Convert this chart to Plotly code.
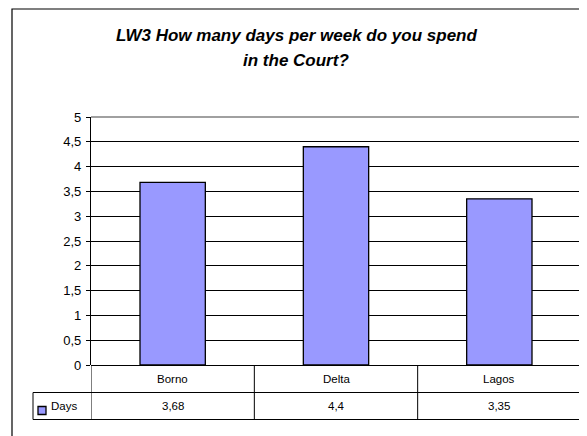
import plotly.graph_objects as go

categories = ["Borno", "Delta", "Lagos"]
values = [3.68, 4.4, 3.35]
series_name = "Days"
tick_vals = [0, 0.5, 1, 1.5, 2, 2.5, 3, 3.5, 4, 4.5, 5]
tick_text = ["0", "0,5", "1", "1,5", "2", "2,5", "3", "3,5", "4", "4,5", "5"]

# the page has an 8px body margin; work in page pixels and compensate
OFF = 8
PAGE_W, PAGE_H = 587, 436
PL, PR_EDGE, PT, PB_EDGE = 91, 581, 117, 365   # plot area in page pixels
W, H = PAGE_W - OFF, PAGE_H - OFF
L = PL - OFF
T = PT - OFF
R = W - (PR_EDGE - OFF)
B = H - (PB_EDGE - OFF)
pw = PR_EDGE - PL
ph = PB_EDGE - PT

def px_x(p):
    return (p - PL) / pw

def px_y(p):
    return (PB_EDGE - p) / ph

FONT = "Liberation Sans, Arial"

fig = go.Figure()
fig.add_trace(go.Bar(
    x=categories, y=values, name=series_name, width=0.4,
    marker=dict(color="#9999FF", line=dict(color="black", width=1.3)),
    showlegend=False,
))

shapes = []
# outer chart border
shapes.append(dict(type="rect", xref="paper", yref="paper",
                   x0=px_x(12), x1=px_x(PAGE_W + 20), y0=px_y(PAGE_H + 20), y1=px_y(9),
                   line=dict(color="black", width=1.2), fillcolor="rgba(0,0,0,0)", layer="below"))
# plot area top/right border (gray)
shapes.append(dict(type="line", xref="paper", yref="paper", x0=0, x1=1, y0=1, y1=1,
                   line=dict(color="#808080", width=1.5)))
shapes.append(dict(type="line", xref="paper", yref="paper", x0=1, x1=1, y0=0, y1=1,
                   line=dict(color="#808080", width=1.5)))
# data table
row1 = px_y(392.5)
row2 = px_y(419.5)
shapes.append(dict(type="line", xref="paper", yref="paper", x0=px_x(33), x1=1, y0=row1, y1=row1,
                   line=dict(color="black", width=1)))
shapes.append(dict(type="line", xref="paper", yref="paper", x0=px_x(33), x1=1, y0=row2, y1=row2,
                   line=dict(color="black", width=1)))
for i in range(len(categories) + 1):
    xb = i - 0.5
    shapes.append(dict(type="line", xref="x", yref="paper", x0=xb, x1=xb, y0=row2, y1=0,
                       line=dict(color="black", width=1)))
shapes.append(dict(type="line", xref="paper", yref="paper", x0=px_x(33), x1=px_x(33), y0=row2, y1=row1,
                   line=dict(color="black", width=1)))
# legend key
shapes.append(dict(type="rect", xref="paper", yref="paper",
                   x0=px_x(38), x1=px_x(46), y0=px_y(414.5), y1=px_y(406.5),
                   fillcolor="#9999FF", line=dict(color="black", width=1.3)))

annotations = []
def ann(x, y, text, size, xref="paper", xanchor="center"):
    annotations.append(dict(x=x, y=y, xref=xref, yref="paper", text=text, showarrow=False,
                            xanchor=xanchor, yanchor="middle",
                            font=dict(family=FONT, size=size, color="black")))

row_mid1 = px_y((PB_EDGE + 392.5) / 2)
row_mid2 = px_y((392.5 + 419.5) / 2)
for c, v in zip(categories, values):
    ann(c, row_mid1, c, 11.5, xref="x")
    ann(c, row_mid2, f"{v:g}".replace(".", ","), 11.5, xref="x")
ann(px_x(49), row_mid2, series_name, 11.5, xanchor="left")
ann(px_x(296), px_y(35), "<b><i>LW3 How many days per week do you spend</i></b>", 17)
ann(px_x(296), px_y(60.5), "<b><i>in the Court?</i></b>", 17)

fig.update_layout(
    width=W, height=H,
    margin=dict(l=L, r=R, t=T, b=B, pad=0),
    paper_bgcolor="white", plot_bgcolor="white",
    shapes=shapes, annotations=annotations,
    xaxis=dict(range=[-0.5, 2.5], showticklabels=False, showgrid=False, zeroline=False,
               showline=False, ticks="", fixedrange=True),
    yaxis=dict(range=[0, 5], tickvals=tick_vals, ticktext=tick_text, showgrid=True,
               gridcolor="black", gridwidth=1, zeroline=True, zerolinecolor="black", zerolinewidth=1,
               showline=True, linecolor="black", linewidth=1.3, ticks="outside", ticklen=4,
               tickcolor="black", tickfont=dict(family=FONT, size=13, color="black"),
               ticklabelstandoff=2, fixedrange=True),
    bargap=0.6,
    font=dict(family=FONT),
)

fig.write_html("out.html")
